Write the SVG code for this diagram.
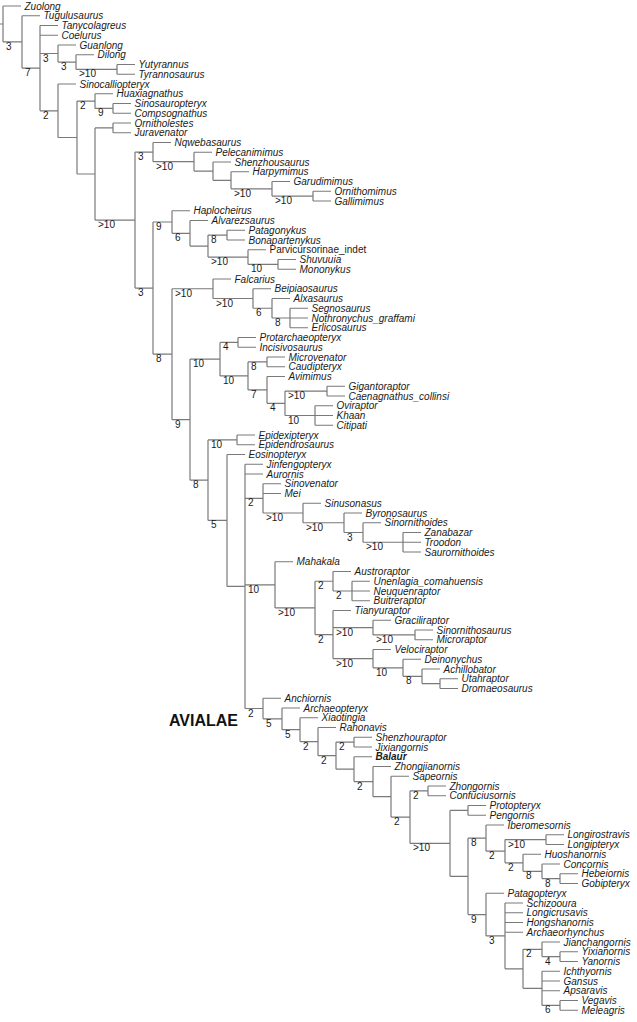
<svg xmlns="http://www.w3.org/2000/svg" width="637" height="1022" viewBox="0 0 637 1022">
<style>
.br{stroke:#7a7a7a;stroke-width:1.2;fill:none}
.tx{font-family:"Liberation Sans",Arial,sans-serif;font-size:10px;font-style:italic;fill:#1a1a1a}
.rg{font-style:normal}
.bd{font-weight:bold}
.sp{font-family:"Liberation Sans",Arial,sans-serif;font-size:10px;fill:#1a1a1a}
.cl{font-family:"Liberation Sans",Arial,sans-serif;font-size:16px;font-weight:bold;fill:#111}
</style>
<rect width="637" height="1022" fill="#fff"/>
<g id="connectors" class="br">
<path d="M0,24H3 M3,6V41.9 M3,6H21 M3,41.9H22"/>
<path d="M22,15.75V68.1 M22,15.75H40 M22,68.1H40"/>
<path d="M40,25.5V110.8 M40,25.5H58 M40,35.25H58 M40,53.5H58 M40,110.8H58"/>
<path d="M58,45V62.1 M58,45H76 M58,62.1H76"/>
<path d="M76,54.75V69.4 M76,54.75H94 M76,69.4H117"/>
<path d="M117,64.5V74.25 M117,64.5H135 M117,74.25H135"/>
<path d="M58,84V137.5 M58,84H76 M58,137.5H77"/>
<path d="M77,101.1V174 M77,101.1H95 M77,174H95"/>
<path d="M95,93.75V108.4 M95,93.75H113 M95,108.4H113"/>
<path d="M113,103.5V113.25 M113,103.5H131 M113,113.25H131"/>
<path d="M95,127.9V220.1 M95,127.9H113 M95,220.1H135"/>
<path d="M113,123V132.75 M113,123H131 M113,132.75H131"/>
<path d="M135,152.1V288.1 M135,152.1H153 M135,288.1H153"/>
<path d="M153,142.5V161.7 M153,142.5H171 M153,161.7H194"/>
<path d="M194,152.25V171.1 M194,152.25H212 M194,171.1H213"/>
<path d="M213,162V180.3 M213,162H231 M213,180.3H231"/>
<path d="M231,171.75V188.8 M231,171.75H249 M231,188.8H272"/>
<path d="M272,181.5V196.1 M272,181.5H290 M272,196.1H313"/>
<path d="M313,191.25V201 M313,191.25H331 M313,201H331"/>
<path d="M153,222V354.2 M153,222H172 M153,354.2H172"/>
<path d="M172,210.75V233.3 M172,210.75H190 M172,233.3H190"/>
<path d="M190,220.5V246.1 M190,220.5H208 M190,246.1H208"/>
<path d="M208,235.1V257.1 M208,235.1H227 M208,257.1H248"/>
<path d="M227,230.25V240 M227,230.25H245 M227,240H245"/>
<path d="M248,249.75V264.4 M248,249.75H266 M248,264.4H278"/>
<path d="M278,259.5V269.25 M278,259.5H296 M278,269.25H296"/>
<path d="M172,288.75V419.65 M172,288.75H213 M172,419.65H190"/>
<path d="M213,279V298.5 M213,279H231 M213,298.5H253"/>
<path d="M253,288.75V308.25 M253,288.75H271 M253,308.25H272"/>
<path d="M272,298.5V318 M272,298.5H290 M272,318H290"/>
<path d="M290,308.25V327.75 M290,308.25H308 M290,318H308 M290,327.75H308"/>
<path d="M190,359.1V480.2 M190,359.1H220 M190,480.2H208"/>
<path d="M220,342.4V375.9 M220,342.4H238 M220,375.9H248"/>
<path d="M238,337.5V347.25 M238,337.5H256 M238,347.25H256"/>
<path d="M248,361.9V389.9 M248,361.9H267 M248,389.9H267"/>
<path d="M267,357V366.75 M267,357H285 M267,366.75H285"/>
<path d="M267,376.5V403.3 M267,376.5H285 M267,403.3H285"/>
<path d="M285,391.1V415.5 M285,391.1H327 M285,415.5H315"/>
<path d="M327,386.25V396 M327,386.25H345 M327,396H345"/>
<path d="M315,405.75V425.25 M315,405.75H333 M315,415.5H333 M315,425.25H333"/>
<path d="M208,439.9V520.45 M208,439.9H237 M208,520.45H227"/>
<path d="M237,435V444.75 M237,435H255 M237,444.75H255"/>
<path d="M227,454.5V586.4 M227,454.5H245 M227,586.4H245"/>
<path d="M245,464.25V708.5 M245,464.25H263 M245,474H263 M245,498.4H263 M245,584.8H275 M245,708.5H263"/>
<path d="M263,483.75V513 M263,483.75H281 M263,493.5H281 M263,513H303"/>
<path d="M303,503.25V522.75 M303,503.25H321 M303,522.75H344"/>
<path d="M344,513V532.5 M344,513H362 M344,532.5H363"/>
<path d="M363,522.75V542.25 M363,522.75H381 M363,542.25H403"/>
<path d="M403,532.5V552 M403,532.5H421 M403,542.25H421 M403,552H421"/>
<path d="M275,561.75V607.9 M275,561.75H293 M275,607.9H315"/>
<path d="M315,581.25V634.6 M315,581.25H333 M315,634.6H333"/>
<path d="M333,571.5V591 M333,571.5H351 M333,591H352"/>
<path d="M352,581.25V600.75 M352,581.25H370 M352,591H370 M352,600.75H370"/>
<path d="M333,610.5V658.6 M333,610.5H351 M333,627.6H373 M333,658.6H373"/>
<path d="M373,620.25V634.9 M373,620.25H391 M373,634.9H415"/>
<path d="M415,630V639.75 M415,630H433 M415,639.75H433"/>
<path d="M373,649.5V667.8 M373,649.5H391 M373,667.8H403"/>
<path d="M403,659.25V676.3 M403,659.25H421 M403,676.3H422"/>
<path d="M422,669V683.6 M422,669H440 M422,683.6H440"/>
<path d="M440,678.75V688.5 M440,678.75H458 M440,688.5H458"/>
<path d="M263,698.25V718.8 M263,698.25H281 M263,718.8H282"/>
<path d="M282,708V729.7 M282,708H300 M282,729.7H300"/>
<path d="M300,717.75V741.6 M300,717.75H318 M300,741.6H318"/>
<path d="M318,727.5V755.65 M318,727.5H336 M318,755.65H336"/>
<path d="M336,742.1V769.2 M336,742.1H354 M336,769.2H354"/>
<path d="M354,737.25V747 M354,737.25H372 M354,747H372"/>
<path d="M354,756.75V781.6 M354,756.75H372 M354,781.6H373"/>
<path d="M373,766.5V796.7 M373,766.5H391 M373,796.7H391"/>
<path d="M391,776.25V817.1 M391,776.25H409 M391,817.1H410"/>
<path d="M410,790.9V843.4 M410,790.9H428 M410,843.4H450"/>
<path d="M428,786V795.75 M428,786H446 M428,795.75H446"/>
<path d="M450,810.4V876.3 M450,810.4H468 M450,876.3H468"/>
<path d="M468,805.5V815.25 M468,805.5H486 M468,815.25H486"/>
<path d="M468,838.1V914.6 M468,838.1H486 M468,914.6H486"/>
<path d="M486,825V851.2 M486,825H504 M486,851.2H505"/>
<path d="M505,839.6V862.8 M505,839.6H546 M505,862.8H523"/>
<path d="M546,834.75V844.5 M546,834.75H564 M546,844.5H564"/>
<path d="M523,854.25V871.3 M523,854.25H541 M523,871.3H542"/>
<path d="M542,864V878.6 M542,864H560 M542,878.6H560"/>
<path d="M560,873.75V883.5 M560,873.75H578 M560,883.5H578"/>
<path d="M486,893.25V935.9 M486,893.25H504 M486,935.9H505"/>
<path d="M505,903V968.8 M505,903H523 M505,912.75H523 M505,922.5H523 M505,932.25H523 M505,968.8H523"/>
<path d="M523,949.3V988.3 M523,949.3H542 M523,988.3H542"/>
<path d="M542,942V956.6 M542,942H560 M542,956.6H560"/>
<path d="M560,951.75V961.5 M560,951.75H578 M560,961.5H578"/>
<path d="M542,971.25V1005.4 M542,971.25H560 M542,981H560 M542,990.75H560 M542,1005.4H560"/>
<path d="M560,1000.5V1010.25 M560,1000.5H578 M560,1010.25H578"/>
</g>
<g id="supports" class="sp">
<text x="6" y="49.9">3</text>
<text x="25" y="76.1">7</text>
<text x="43" y="61.5">3</text>
<text x="61" y="70.1">3</text>
<text x="79" y="77.4">&gt;10</text>
<text x="43" y="118.8">2</text>
<text x="80" y="109.1">2</text>
<text x="98" y="116.4">9</text>
<text x="98" y="228.1">&gt;10</text>
<text x="138" y="160.1">3</text>
<text x="156" y="169.7">&gt;10</text>
<text x="234" y="196.8">&gt;10</text>
<text x="275" y="204.1">&gt;10</text>
<text x="138" y="296.1">3</text>
<text x="156" y="230">9</text>
<text x="175" y="241.3">6</text>
<text x="211" y="243.1">8</text>
<text x="211" y="265.1">&gt;10</text>
<text x="251" y="272.4">10</text>
<text x="156" y="362.2">8</text>
<text x="175" y="296.75">&gt;10</text>
<text x="216" y="306.5">&gt;10</text>
<text x="256" y="316.25">6</text>
<text x="275" y="326">8</text>
<text x="175" y="427.65">9</text>
<text x="193" y="367.1">10</text>
<text x="223" y="350.4">4</text>
<text x="223" y="383.9">10</text>
<text x="251" y="369.9">8</text>
<text x="251" y="397.9">7</text>
<text x="270" y="411.3">4</text>
<text x="288" y="399.1">&gt;10</text>
<text x="288" y="423.5">10</text>
<text x="193" y="488.2">8</text>
<text x="211" y="447.9">10</text>
<text x="211" y="528.45">5</text>
<text x="248" y="506.4">2</text>
<text x="266" y="521">&gt;10</text>
<text x="306" y="530.75">&gt;10</text>
<text x="347" y="540.5">3</text>
<text x="366" y="550.25">&gt;10</text>
<text x="248" y="592.8">10</text>
<text x="278" y="615.9">&gt;10</text>
<text x="318" y="589.25">2</text>
<text x="336" y="599">2</text>
<text x="318" y="642.6">2</text>
<text x="336" y="635.6">&gt;10</text>
<text x="376" y="642.9">&gt;10</text>
<text x="336" y="666.6">&gt;10</text>
<text x="376" y="675.8">10</text>
<text x="406" y="684.3">8</text>
<text x="248" y="716.5">2</text>
<text x="266" y="726.8">5</text>
<text x="285" y="737.7">5</text>
<text x="303" y="749.6">2</text>
<text x="321" y="763.65">2</text>
<text x="339" y="750.1">2</text>
<text x="357" y="789.6">2</text>
<text x="394" y="825.1">2</text>
<text x="413" y="798.9">2</text>
<text x="413" y="851.4">&gt;10</text>
<text x="471" y="846.1">8</text>
<text x="489" y="859.2">2</text>
<text x="508" y="847.6">&gt;10</text>
<text x="508" y="870.8">2</text>
<text x="526" y="879.3">8</text>
<text x="545" y="886.6">8</text>
<text x="471" y="922.6">9</text>
<text x="489" y="943.9">3</text>
<text x="526" y="957.3">2</text>
<text x="545" y="964.6">4</text>
<text x="545" y="1013.4">6</text>
</g>
<g id="clade-avialae"><text class="cl" x="169" y="726">AVIALAE</text></g>
<g id="taxa" class="tx">
<g id="t00"><text x="24.5" y="9.5">Zuolong</text></g>
<g id="t01"><text x="43.5" y="19.25">Tugulusaurus</text></g>
<g id="t02"><text x="61.5" y="29">Tanycolagreus</text></g>
<g id="t03"><text x="61.5" y="38.75">Coelurus</text></g>
<g id="t04"><text x="79.5" y="48.5">Guanlong</text></g>
<g id="t05"><text x="97.5" y="58.25">Dilong</text></g>
<g id="t06"><text x="138.5" y="68">Yutyrannus</text></g>
<g id="t07"><text x="138.5" y="77.75">Tyrannosaurus</text></g>
<g id="t08"><text x="79.5" y="87.5">Sinocalliopteryx</text></g>
<g id="t09"><text x="116.5" y="97.25">Huaxiagnathus</text></g>
<g id="t10"><text x="134.5" y="107">Sinosauropteryx</text></g>
<g id="t11"><text x="134.5" y="116.75">Compsognathus</text></g>
<g id="t12"><text x="134.5" y="126.5">Ornitholestes</text></g>
<g id="t13"><text x="134.5" y="136.25">Juravenator</text></g>
<g id="t14"><text x="174.5" y="146">Nqwebasaurus</text></g>
<g id="t15"><text x="215.5" y="155.75">Pelecanimimus</text></g>
<g id="t16"><text x="234.5" y="165.5">Shenzhousaurus</text></g>
<g id="t17"><text x="252.5" y="175.25">Harpymimus</text></g>
<g id="t18"><text x="293.5" y="185">Garudimimus</text></g>
<g id="t19"><text x="334.5" y="194.75">Ornithomimus</text></g>
<g id="t20"><text x="334.5" y="204.5">Gallimimus</text></g>
<g id="t21"><text x="193.5" y="214.25">Haplocheirus</text></g>
<g id="t22"><text x="211.5" y="224">Alvarezsaurus</text></g>
<g id="t23"><text x="248.5" y="233.75">Patagonykus</text></g>
<g id="t24"><text x="248.5" y="243.5">Bonapartenykus</text></g>
<g id="t25"><text class="rg" x="269.5" y="253.25">Parvicursorinae_indet</text></g>
<g id="t26"><text x="299.5" y="263">Shuvuuia</text></g>
<g id="t27"><text x="299.5" y="272.75">Mononykus</text></g>
<g id="t28"><text x="234.5" y="282.5">Falcarius</text></g>
<g id="t29"><text x="274.5" y="292.25">Beipiaosaurus</text></g>
<g id="t30"><text x="293.5" y="302">Alxasaurus</text></g>
<g id="t31"><text x="311.5" y="311.75">Segnosaurus</text></g>
<g id="t32"><text x="311.5" y="321.5">Nothronychus_graffami</text></g>
<g id="t33"><text x="311.5" y="331.25">Erlicosaurus</text></g>
<g id="t34"><text x="259.5" y="341">Protarchaeopteryx</text></g>
<g id="t35"><text x="259.5" y="350.75">Incisivosaurus</text></g>
<g id="t36"><text x="288.5" y="360.5">Microvenator</text></g>
<g id="t37"><text x="288.5" y="370.25">Caudipteryx</text></g>
<g id="t38"><text x="288.5" y="380">Avimimus</text></g>
<g id="t39"><text x="348.5" y="389.75">Gigantoraptor</text></g>
<g id="t40"><text x="348.5" y="399.5">Caenagnathus_collinsi</text></g>
<g id="t41"><text x="336.5" y="409.25">Oviraptor</text></g>
<g id="t42"><text x="336.5" y="419">Khaan</text></g>
<g id="t43"><text x="336.5" y="428.75">Citipati</text></g>
<g id="t44"><text x="258.5" y="438.5">Epidexipteryx</text></g>
<g id="t45"><text x="258.5" y="448.25">Epidendrosaurus</text></g>
<g id="t46"><text x="248.5" y="458">Eosinopteryx</text></g>
<g id="t47"><text x="266.5" y="467.75">Jinfengopteryx</text></g>
<g id="t48"><text x="266.5" y="477.5">Aurornis</text></g>
<g id="t49"><text x="284.5" y="487.25">Sinovenator</text></g>
<g id="t50"><text x="284.5" y="497">Mei</text></g>
<g id="t51"><text x="324.5" y="506.75">Sinusonasus</text></g>
<g id="t52"><text x="365.5" y="516.5">Byronosaurus</text></g>
<g id="t53"><text x="384.5" y="526.25">Sinornithoides</text></g>
<g id="t54"><text x="424.5" y="536">Zanabazar</text></g>
<g id="t55"><text x="424.5" y="545.75">Troodon</text></g>
<g id="t56"><text x="424.5" y="555.5">Saurornithoides</text></g>
<g id="t57"><text x="296.5" y="565.25">Mahakala</text></g>
<g id="t58"><text x="354.5" y="575">Austroraptor</text></g>
<g id="t59"><text x="373.5" y="584.75">Unenlagia_comahuensis</text></g>
<g id="t60"><text x="373.5" y="594.5">Neuquenraptor</text></g>
<g id="t61"><text x="373.5" y="604.25">Buitreraptor</text></g>
<g id="t62"><text x="354.5" y="614">Tianyuraptor</text></g>
<g id="t63"><text x="394.5" y="623.75">Graciliraptor</text></g>
<g id="t64"><text x="436.5" y="633.5">Sinornithosaurus</text></g>
<g id="t65"><text x="436.5" y="643.25">Microraptor</text></g>
<g id="t66"><text x="394.5" y="653">Velociraptor</text></g>
<g id="t67"><text x="424.5" y="662.75">Deinonychus</text></g>
<g id="t68"><text x="443.5" y="672.5">Achillobator</text></g>
<g id="t69"><text x="461.5" y="682.25">Utahraptor</text></g>
<g id="t70"><text x="461.5" y="692">Dromaeosaurus</text></g>
<g id="t71"><text x="284.5" y="701.75">Anchiornis</text></g>
<g id="t72"><text x="303.5" y="711.5">Archaeopteryx</text></g>
<g id="t73"><text x="321.5" y="721.25">Xiaotingia</text></g>
<g id="t74"><text x="339.5" y="731">Rahonavis</text></g>
<g id="t75"><text x="375.5" y="740.75">Shenzhouraptor</text></g>
<g id="t76"><text x="375.5" y="750.5">Jixiangornis</text></g>
<g id="t77"><text class="bd" x="375.5" y="760.25">Balaur</text></g>
<g id="t78"><text x="394.5" y="770">Zhongjianornis</text></g>
<g id="t79"><text x="412.5" y="779.75">Sapeornis</text></g>
<g id="t80"><text x="449.5" y="789.5">Zhongornis</text></g>
<g id="t81"><text x="449.5" y="799.25">Confuciusornis</text></g>
<g id="t82"><text x="489.5" y="809">Protopteryx</text></g>
<g id="t83"><text x="489.5" y="818.75">Pengornis</text></g>
<g id="t84"><text x="507.5" y="828.5">Iberomesornis</text></g>
<g id="t85"><text x="567.5" y="838.25">Longirostravis</text></g>
<g id="t86"><text x="567.5" y="848">Longipteryx</text></g>
<g id="t87"><text x="544.5" y="857.75">Huoshanornis</text></g>
<g id="t88"><text x="563.5" y="867.5">Concornis</text></g>
<g id="t89"><text x="581.5" y="877.25">Hebeiornis</text></g>
<g id="t90"><text x="581.5" y="887">Gobipteryx</text></g>
<g id="t91"><text x="507.5" y="896.75">Patagopteryx</text></g>
<g id="t92"><text x="526.5" y="906.5">Schizooura</text></g>
<g id="t93"><text x="526.5" y="916.25">Longicrusavis</text></g>
<g id="t94"><text x="526.5" y="926">Hongshanornis</text></g>
<g id="t95"><text x="526.5" y="935.75">Archaeorhynchus</text></g>
<g id="t96"><text x="563.5" y="945.5">Jianchangornis</text></g>
<g id="t97"><text x="581.5" y="955.25">Yixianornis</text></g>
<g id="t98"><text x="581.5" y="965">Yanornis</text></g>
<g id="t99"><text x="563.5" y="974.75">Ichthyornis</text></g>
<g id="t100"><text x="563.5" y="984.5">Gansus</text></g>
<g id="t101"><text x="563.5" y="994.25">Apsaravis</text></g>
<g id="t102"><text x="581.5" y="1004">Vegavis</text></g>
<g id="t103"><text x="581.5" y="1013.75">Meleagris</text></g>
</g>
</svg>
